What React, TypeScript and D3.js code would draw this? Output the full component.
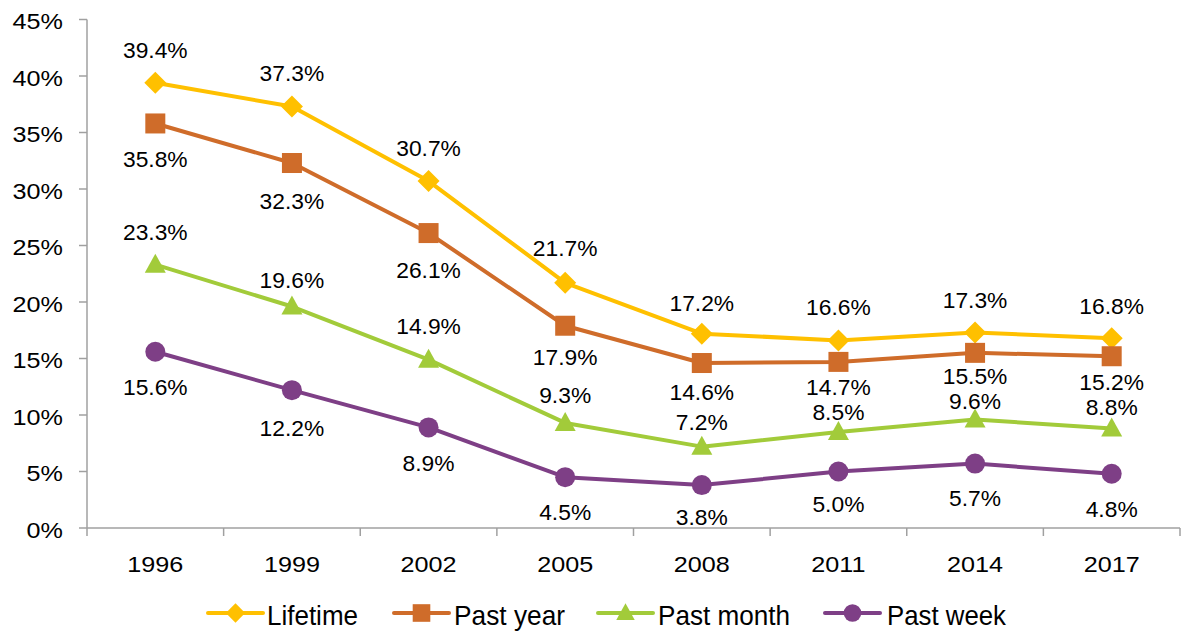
import React from "react";
import * as d3 from "d3";

const years = ["1996", "1999", "2002", "2005", "2008", "2011", "2014", "2017"];
const lifetime = [39.4, 37.3, 30.7, 21.7, 17.2, 16.6, 17.3, 16.8];
const pastYear = [35.8, 32.3, 26.1, 17.9, 14.6, 14.7, 15.5, 15.2];
const pastMonth = [23.3, 19.6, 14.9, 9.3, 7.2, 8.5, 9.6, 8.8];
const pastWeek = [15.6, 12.2, 8.9, 4.5, 3.8, 5.0, 5.7, 4.8];
const yTicks = [0, 5, 10, 15, 20, 25, 30, 35, 40, 45];

// label centre offsets (px) from each point, as placed in the reference
const lifetimeDy = [-33, -34, -33, -35, -31, -33, -33, -32];
const pastYearDy = [36, 38, 37, 31, 29, 25, 23, 26];
const pastMonthDy = [-33, -27, -34, -28, -25, -20, -19, -22];
const pastWeekDy = [35, 38, 36, 35, 32, 32, 34, 35];

const series = [
  { name: "Lifetime", values: lifetime, dy: lifetimeDy, color: "#FFC000", symbol: "diamond" },
  { name: "Past year", values: pastYear, dy: pastYearDy, color: "#CF6C2A", symbol: "square" },
  { name: "Past month", values: pastMonth, dy: pastMonthDy, color: "#A2CB3A", symbol: "triangle" },
  { name: "Past week", values: pastWeek, dy: pastWeekDy, color: "#7E3F86", symbol: "circle" },
];

const W = 1181;
const H = 633;
const left = 87;
const right = 1180;
const top = 19.5;
const bottom = 528;

function Marker({ type, x, y, color, s = 1 }: { type: string; x: number; y: number; color: string; s?: number }) {
  if (type === "diamond") {
    const r = 11 * s;
    return <path d={`M${x},${y - r}L${x + r},${y}L${x},${y + r}L${x - r},${y}Z`} fill={color} />;
  }
  if (type === "square") {
    const r = 10 * s;
    return <rect x={x - r} y={y - r} width={2 * r} height={2 * r} fill={color} />;
  }
  if (type === "triangle") {
    return (
      <path
        d={`M${x},${y - 11 * s}L${x + 10.5 * s},${y + 8 * s}L${x - 10.5 * s},${y + 8 * s}Z`}
        fill={color}
      />
    );
  }
  return <circle cx={x} cy={y} r={10 * s} fill={color} />;
}

export default function App() {
  const x = d3.scaleBand<string>().domain(years).range([left, right]);
  const y = d3.scaleLinear().domain([0, 45]).range([bottom, top]);
  const cx = (yr: string) => (x(yr) as number) + x.bandwidth() / 2;
  const line = d3
    .line<number>()
    .x((_, i) => cx(years[i]))
    .y((d) => y(d));

  const font = "'Liberation Sans', Arial, sans-serif";
  const legendItems = [
    { lx: 208, tx: 267, tw: 91 },
    { lx: 394, tx: 454, tw: 111 },
    { lx: 598, tx: 658, tw: 132 },
    { lx: 825, tx: 887, tw: 119 },
  ];
  const axisColor = "#A0A0A0";

  return (
    <svg width={W} height={H} style={{ position: "absolute", left: 0, top: 0 }}>
      <rect width={W} height={H} fill="#fff" />
      {/* y axis */}
      <line x1={left} x2={left} y1={top} y2={bottom} stroke={axisColor} strokeWidth={1.5} />
      {yTicks.map((t) => (
        <g key={t}>
          <line x1={left - 8} x2={left} y1={y(t)} y2={y(t)} stroke={axisColor} strokeWidth={1.5} />
          <text
            transform={`translate(63,${y(t) + 9.5}) scale(1.12,1)`}
            textAnchor="end"
            fontFamily={font}
            fontSize={22.5}
            fill="#000"
          >
            {t}%
          </text>
        </g>
      ))}
      {/* x axis */}
      <line x1={left} x2={right} y1={bottom} y2={bottom} stroke={axisColor} strokeWidth={1.5} />
      {years.map((yr) => (
        <line
          key={"t" + yr}
          x1={x(yr) as number}
          x2={x(yr) as number}
          y1={bottom}
          y2={bottom + 8}
          stroke={axisColor}
          strokeWidth={1.5}
        />
      ))}
      <line x1={right} x2={right} y1={bottom} y2={bottom + 8} stroke={axisColor} strokeWidth={1.5} />
      {years.map((yr) => (
        <text
          key={yr}
          transform={`translate(${cx(yr)},571.5) scale(1.12,1)`}
          textAnchor="middle"
          fontFamily={font}
          fontSize={22.5}
          fill="#000"
        >
          {yr}
        </text>
      ))}
      {/* series */}
      {series.map((s) => (
        <g key={s.name}>
          <path d={line(s.values) || ""} fill="none" stroke={s.color} strokeWidth={4} strokeLinejoin="round" />
          {s.values.map((v, i) => (
            <Marker key={i} type={s.symbol} x={cx(years[i])} y={y(v)} color={s.color} />
          ))}
        </g>
      ))}
      {series.map((s) => (
        <g key={"labels" + s.name}>
          {s.values.map((v, i) => (
            <text
              key={"l" + i}
              x={cx(years[i])}
              y={y(v) + s.dy[i] + 8}
              textAnchor="middle"
              fontFamily={font}
              fontSize={22.8}
              fill="#000"
            >
              {v.toFixed(1)}%
            </text>
          ))}
        </g>
      ))}
      {/* legend */}
      {series.map((s, i) => {
        const it = legendItems[i];
        const ly = 613;
        return (
          <g key={"lg" + s.name}>
            <line x1={it.lx} x2={it.lx + 55} y1={ly} y2={ly} stroke={s.color} strokeWidth={4} strokeLinecap="round" />
            <Marker type={s.symbol} x={it.lx + 27.5} y={ly} color={s.color} s={0.88} />
            <text
              x={it.tx}
              y={625}
              fontFamily={font}
              fontSize={27.5}
              textLength={it.tw}
              lengthAdjust="spacingAndGlyphs"
              fill="#000"
            >
              {s.name}
            </text>
          </g>
        );
      })}
    </svg>
  );
}
